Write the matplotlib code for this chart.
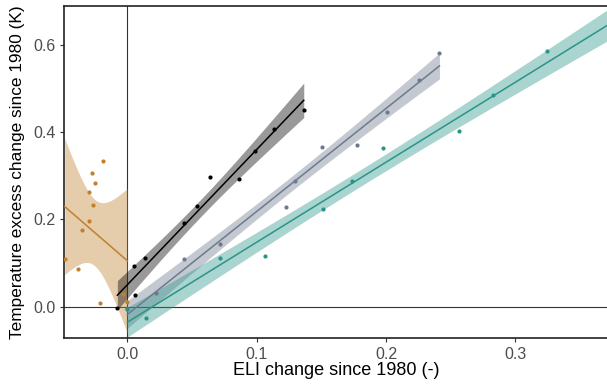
import numpy as np
import matplotlib
matplotlib.use("Agg")
import matplotlib.pyplot as plt

plt.rcParams['font.family'] = ['Liberation Sans', 'DejaVu Sans']

# ELI change (x) and temperature excess change (y)
orange_x = [-0.0186, -0.0273, -0.0252, -0.0299, -0.0265, -0.0294, -0.0348, -0.0484, -0.0381, -0.0211, -0.003, 0.0]
orange_y = [0.335, 0.306, 0.284, 0.263, 0.233, 0.197, 0.177, 0.109, 0.087, 0.009, 0.03, 0.01]

black_x = [-0.0077, 0.0054, 0.0060, 0.0139, 0.0436, 0.0537, 0.0640, 0.0866, 0.0985, 0.1137, 0.1364]
black_y = [-0.004, 0.093, 0.027, 0.112, 0.192, 0.231, 0.298, 0.293, 0.356, 0.408, 0.452]

slate_x = [0.0, 0.0224, 0.0441, 0.0717, 0.1225, 0.1297, 0.1508, 0.1774, 0.2011, 0.2258, 0.2413]
slate_y = [-0.006, 0.031, 0.109, 0.143, 0.228, 0.289, 0.366, 0.370, 0.447, 0.520, 0.583]

teal_x = [0.0, 0.0145, 0.0717, 0.1063, 0.1514, 0.1740, 0.1975, 0.2563, 0.2826, 0.3241, 0.395]
teal_y = [-0.005, -0.027, 0.112, 0.116, 0.224, 0.289, 0.364, 0.403, 0.486, 0.587, 0.68]

series = [
    (orange_x, orange_y, "#C0802F"),
    (black_x, black_y, "#000000"),
    (slate_x, slate_y, "#6C7A8E"),
    (teal_x, teal_y, "#2A9487"),
]

t975 = {8: 2.306, 9: 2.262, 10: 2.228, 11: 2.201, 12: 2.179, 13: 2.160}


def lm_band(x, y):
    x = np.asarray(x); y = np.asarray(y)
    n = len(x)
    b, a = np.polyfit(x, y, 1)
    res = y - (a + b * x)
    s = np.sqrt(np.sum(res ** 2) / (n - 2))
    xbar = x.mean()
    sxx = np.sum((x - xbar) ** 2)
    xs = np.linspace(x.min(), x.max(), 100)
    fit = a + b * xs
    se = s * np.sqrt(1 / n + (xs - xbar) ** 2 / sxx)
    t = t975[n - 2]
    return xs, fit, fit - t * se, fit + t * se


fig = plt.figure(figsize=(6.07, 3.84), dpi=100)
ax = fig.add_axes([0.106, 0.1198, 0.8975, 0.8646])

ax.axhline(0, color="#333333", lw=0.8, zorder=1)
ax.axvline(0, color="#333333", lw=0.8, zorder=1)

for x, y, c in series:
    xs, fit, lo, hi = lm_band(x, y)
    ax.fill_between(xs, lo, hi, color=c, alpha=0.4, lw=0, zorder=2)
    ax.plot(xs, fit, color=c, lw=1.1, zorder=3)
for x, y, c in series:
    ax.scatter(x, y, s=9, color=c, lw=0, zorder=4)

ax.set_xlim(-0.0487, 0.3725)
ax.set_ylim(-0.0718, 0.6897)
ax.set_xticks([0.0, 0.1, 0.2, 0.3])
ax.set_yticks([0.0, 0.2, 0.4, 0.6])
ax.set_xticklabels(["0.0", "0.1", "0.2", "0.3"])
ax.set_yticklabels(["0.0", "0.2", "0.4", "0.6"])
ax.tick_params(colors="#333333", labelcolor="#4D4D4D", labelsize=11.5, length=3, width=0.8)

for sp in ax.spines.values():
    sp.set_color("#222222")
    sp.set_linewidth(1.2)

ax.set_xlabel("ELI change since 1980 (-)", fontsize=13, labelpad=0)
ax.set_ylabel("Temperature excess change since 1980 (K)", fontsize=12.4, labelpad=5)
ax.yaxis.set_label_coords(-0.072, 0.5)

fig.savefig("out.png", dpi=100)
